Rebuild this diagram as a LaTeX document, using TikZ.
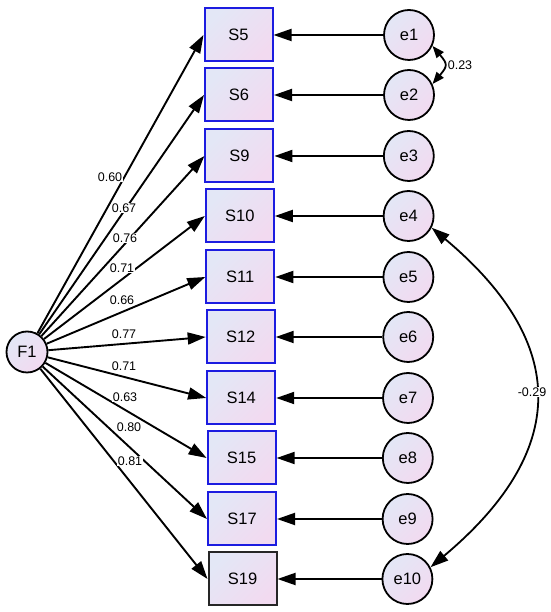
\documentclass[tikz,border=0pt]{standalone}
\usepackage{fontspec}
\setmainfont{Liberation Sans}
\usetikzlibrary{arrows.meta}
\definecolor{shA}{HTML}{E3E7F6}
\definecolor{shB}{HTML}{F2DAF0}
\definecolor{bblue}{HTML}{1C1CE0}
\begin{document}
\begin{tikzpicture}[x=1pt,y=1pt,
  obs/.style={draw=bblue, line width=2pt, minimum width=68pt, minimum height=53pt,
    left color=shA, right color=shB, shading angle=45, inner sep=0pt,
    font=\fontsize{16.5}{18}\selectfont},
  err/.style={circle, draw=black, line width=1.8pt, minimum size=50pt,
    left color=shA, right color=shB, shading angle=45, inner sep=0pt,
    font=\fontsize{16.5}{18}\selectfont},
  lat/.style={err, minimum size=41pt},
  regpath/.style={line width=1.9pt, -{Triangle[length=18pt,width=12pt]}},
  cov/.style={line width=1.8pt, {Triangle[length=12pt,width=9pt]}-{Triangle[length=12pt,width=9pt]}},
  bigcov/.style={line width=1.8pt, {Triangle[length=18pt,width=12pt]}-{Triangle[length=18pt,width=12pt]}},
  lab/.style={fill=white, inner sep=1pt, font=\fontsize{12.5}{14}\selectfont},
  plainlab/.style={inner sep=1pt, font=\fontsize{12.5}{14}\selectfont}
]
\useasboundingbox (0,0) rectangle (550,612);
\fill[white] (0,0) rectangle (550,612);

% observed variables
\node[obs] (S5)  at (238.5,577) {S5};
\node[obs] (S6)  at (239.0,517) {S6};
\node[obs] (S9)  at (239.4,456) {S9};
\node[obs] (S10) at (239.8,396) {S10};
\node[obs] (S11) at (240.3,335) {S11};
\node[obs] (S12) at (240.7,275) {S12};
\node[obs] (S14) at (241.2,214) {S14};
\node[obs] (S15) at (241.6,154) {S15};
\node[obs] (S17) at (242.0,93)  {S17};
\node[obs, draw=black!85] (S19) at (242.5,33) {S19};

% errors
\node[err] (e1)  at (409.0,577) {e1};
\node[err] (e2)  at (409.0,517) {e2};
\node[err] (e3)  at (408.8,456) {e3};
\node[err] (e4)  at (408.6,396) {e4};
\node[err] (e5)  at (408.4,335) {e5};
\node[err] (e6)  at (408.2,275) {e6};
\node[err] (e7)  at (408.0,214) {e7};
\node[err] (e8)  at (407.8,154) {e8};
\node[err] (e9)  at (407.6,93)  {e9};
\node[err] (e10) at (407.4,33)  {e10};

% latent
\node[lat] (F1) at (27,260) {F1};

% loadings
\foreach \s in {S5,S6,S9,S10,S11,S12,S14,S15,S17,S19}
  \draw[regpath] (F1) -- (\s.west);

% error paths
\draw[regpath] (e1) -- (S5);
\draw[regpath] (e2) -- (S6);
\draw[regpath] (e3) -- (S9);
\draw[regpath] (e4) -- (S10);
\draw[regpath] (e5) -- (S11);
\draw[regpath] (e6) -- (S12);
\draw[regpath] (e7) -- (S14);
\draw[regpath] (e8) -- (S15);
\draw[regpath] (e9) -- (S17);
\draw[regpath] (e10) -- (S19);

% loading labels
\node[lab] (l1)  at (110,435) {0.60};
\node[lab] (l2)  at (124,404) {0.67};
\node[lab] (l3)  at (125,374) {0.76};
\node[lab] (l4)  at (122,344) {0.71};
\node[lab] (l5)  at (122,312) {0.66};
\node[lab] (l6)  at (124,278) {0.77};
\node[lab] (l7)  at (124,246) {0.71};
\node[lab] (l8)  at (125,215) {0.63};
\node[lab] (l9)  at (129,185) {0.80};
\node[lab] (l10) at (130,151) {0.81};

% covariances
\draw[cov] (e1.-25) to[out=-50,in=50,looseness=1.6] (e2.25);
\node[plainlab] (c12) at (460,547) {0.23};

\draw[bigcov] (e4.-27) to[out=-40,in=40,looseness=1.36] (e10.27);
\node[lab] (c410) at (532,220) {-0.29};
\end{tikzpicture}
\end{document}
